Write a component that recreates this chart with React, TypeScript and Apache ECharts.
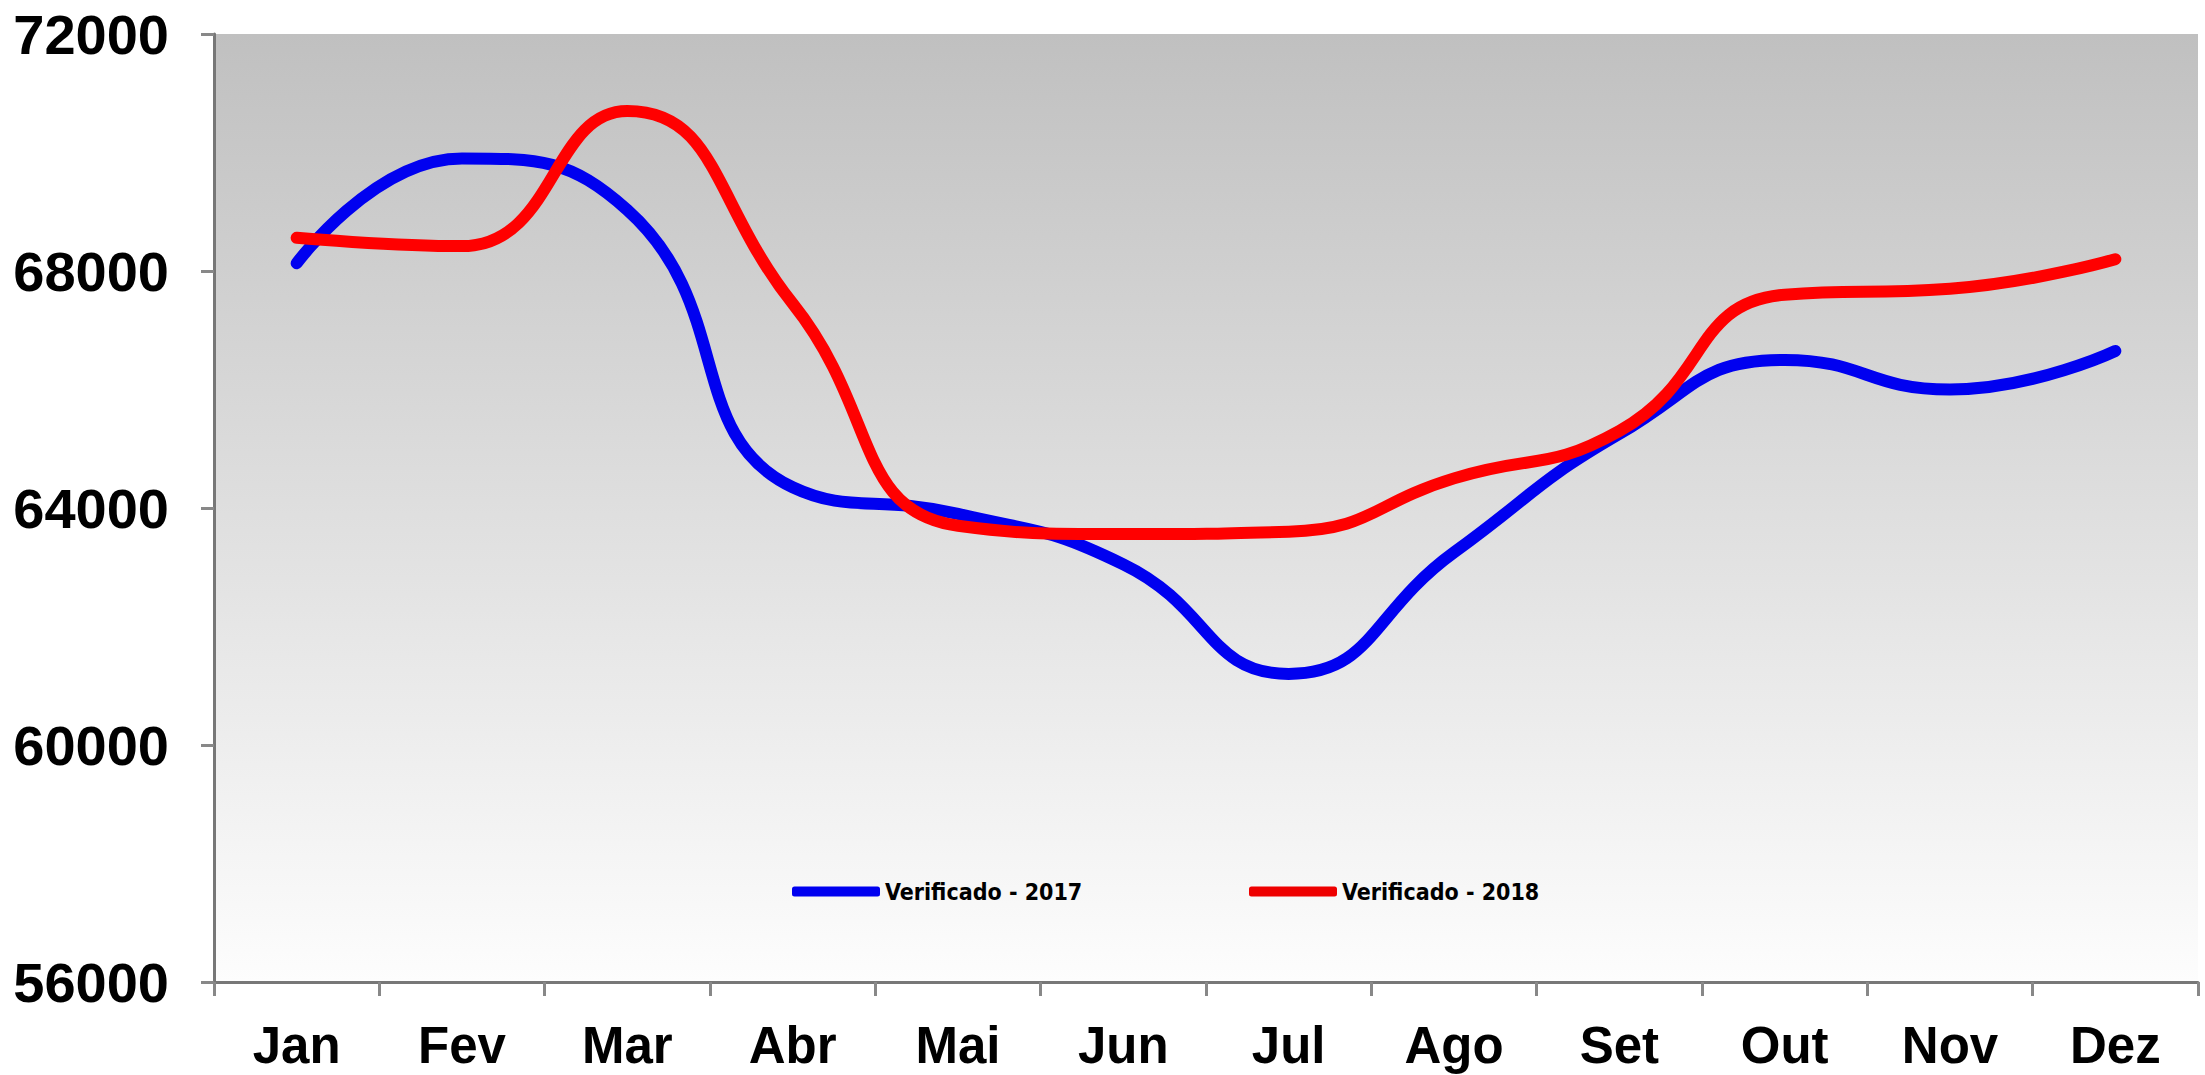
import React, { useEffect, useRef } from "react";
import * as echarts from "echarts";

const months = ["Jan", "Fev", "Mar", "Abr", "Mai", "Jun", "Jul", "Ago", "Set", "Out", "Nov", "Dez"];
const verificado2017 = [68130, 69900, 69030, 64350, 63900, 63050, 61200, 63250, 65250, 66500, 66000, 66650];
const verificado2018 = [68560, 68420, 70700, 67450, 63700, 63560, 63600, 64500, 65300, 67600, 67700, 68200];
const seriesNames = ["Verificado - 2017", "Verificado - 2018"];
const yMin = 56000;
const yMax = 72000;
const yStep = 4000;

export default function App() {
  const ref = useRef<HTMLDivElement>(null);
  useEffect(() => {
    if (!ref.current) return;
    const chart = echarts.init(ref.current, null, { renderer: "svg" });
    const legendText = {
      fontFamily: "'Liberation Sans Narrow', 'DejaVu Sans Condensed', 'Liberation Sans', sans-serif",
      fontWeight: "bold" as const,
      fontSize: 23,
      color: "#000",
    };
    chart.setOption({
      animation: false,
      backgroundColor: "#ffffff",
      grid: {
        left: 214,
        right: 7,
        top: 34,
        bottom: 93,
        show: true,
        borderWidth: 0,
        backgroundColor: new echarts.graphic.LinearGradient(0, 0, 0, 1, [
          { offset: 0, color: "#c0c0c0" },
          { offset: 1, color: "#fdfdfd" },
        ]),
      },
      legend: [
        {
          data: [seriesNames[0]],
          left: 787,
          top: 875,
          icon: "roundRect",
          itemWidth: 88,
          itemHeight: 10,
          itemGap: 8,
          textStyle: legendText,
        },
        {
          data: [seriesNames[1]],
          left: 1244,
          top: 875,
          icon: "roundRect",
          itemWidth: 88,
          itemHeight: 10,
          itemGap: 8,
          textStyle: legendText,
        },
      ],
      xAxis: {
        type: "category",
        data: months,
        boundaryGap: true,
        axisLine: { lineStyle: { color: "#777777", width: 3 } },
        axisTick: { show: true, length: 14, lineStyle: { color: "#888888", width: 3 } },
        axisLabel: {
          margin: 38,
          fontFamily: "'Liberation Sans', Arial, sans-serif",
          fontWeight: "bold",
          fontSize: 51,
          color: "#000",
        },
        splitLine: { show: false },
      },
      yAxis: {
        type: "value",
        min: yMin,
        max: yMax,
        interval: yStep,
        axisLine: { show: true, lineStyle: { color: "#777777", width: 3 } },
        axisTick: { show: true, length: 13, lineStyle: { color: "#888888", width: 3 } },
        axisLabel: {
          margin: 45,
          fontFamily: "'Liberation Sans', Arial, sans-serif",
          fontWeight: "bold",
          fontSize: 56,
          color: "#000",
          formatter: (v: number) => String(v),
        },
        splitLine: { show: false },
      },
      series: [
        {
          name: seriesNames[0],
          type: "line",
          data: verificado2017,
          smooth: 0.5,
          showSymbol: false,
          symbol: "none",
          lineStyle: { color: "#0000f0", width: 12, cap: "round" },
          itemStyle: { color: "#0000f0" },
        },
        {
          name: seriesNames[1],
          type: "line",
          data: verificado2018,
          smooth: 0.5,
          showSymbol: false,
          symbol: "none",
          lineStyle: { color: "#ff0000", width: 12, cap: "round" },
          itemStyle: { color: "#ee0000" },
        },
      ],
    });
    return () => chart.dispose();
  }, []);
  return (
    <div
      ref={ref}
      style={{ position: "absolute", left: 0, top: 0, width: 2205, height: 1075 }}
    />
  );
}
